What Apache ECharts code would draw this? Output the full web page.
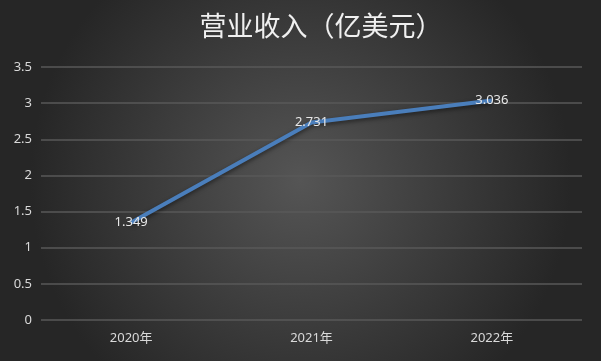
<!DOCTYPE html>
<html><head><meta charset="utf-8">
<script src="https://cdn.jsdelivr.net/npm/echarts@6/dist/echarts.min.js"></script>
<style>html,body{margin:0;padding:0;background:#3a3a3a}#c{width:601px;height:361px}</style>
</head><body><div id="c"></div>
<script>
const title = '营业收入（亿美元）';
const categories = ['2020年', '2021年', '2022年'];
const revenue = [1.349, 2.731, 3.036];
const yTicks = [0, 0.5, 1, 1.5, 2, 2.5, 3, 3.5];

const chart = echarts.init(document.getElementById('c'), null, {renderer: 'canvas'});
chart.setOption({
  animation: false,
  backgroundColor: {
    type: 'radial', x: 0.5, y: 0.5, r: 0.75,
    colorStops: [{offset: 0, color: '#555555'}, {offset: 1, color: '#262626'}]
  },
  title: {
    text: title, left: 316, top: 7, textAlign: 'center',
    textStyle: {color: '#f0f0f0', fontSize: 27, fontWeight: 'normal', fontFamily: '"Noto Sans CJK SC", sans-serif'}
  },
  grid: {left: 41, right: 19, top: 67, bottom: 41},
  xAxis: {
    type: 'category', data: categories, boundaryGap: true,
    axisLine: {show: false}, axisTick: {show: false},
    axisLabel: {color: '#d9d9d9', fontSize: 13, margin: 12, fontFamily: '"Noto Sans", "Noto Sans CJK SC", sans-serif'}
  },
  yAxis: {
    type: 'value', min: yTicks[0], max: yTicks[yTicks.length - 1], interval: 0.5,
    axisLine: {show: false}, axisTick: {show: false},
    splitLine: {lineStyle: {color: '#585858', width: 1.5}},
    axisLabel: {color: '#d9d9d9', fontSize: 13, margin: 9, fontFamily: '"Noto Sans", sans-serif'}
  },
  series: [{
    type: 'line', data: revenue, symbol: 'circle', symbolSize: 6, showSymbol: true,
    itemStyle: {color: 'rgba(0,0,0,0)', borderWidth: 0},
    lineStyle: {color: '#4a7ebb', width: 4, shadowColor: 'rgba(0,0,0,0.5)', shadowBlur: 4, shadowOffsetY: 2},
    label: {show: true, position: 'inside', color: '#e8e8e8', fontSize: 13, fontFamily: '"Noto Sans", sans-serif'},
    z: 3
  }]
});
</script></body></html>
